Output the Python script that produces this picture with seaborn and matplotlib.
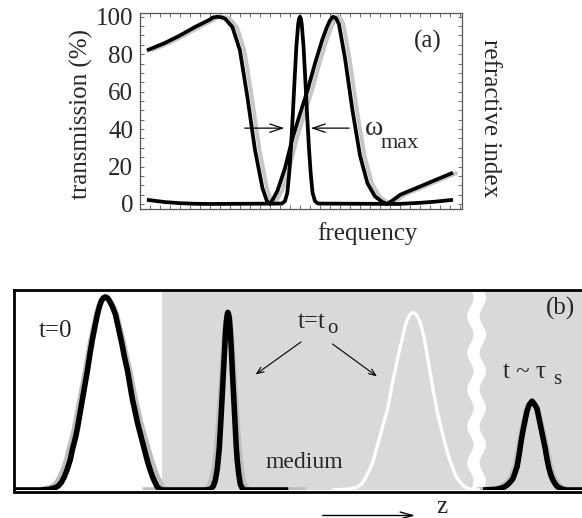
import numpy as np
import seaborn as sns
import matplotlib
matplotlib.use('Agg')
import matplotlib.pyplot as plt
from matplotlib.ticker import MultipleLocator

sns.set_style('white')
plt.rcParams['font.family'] = ['Liberation Serif', 'DejaVu Serif']
plt.rcParams['lines.solid_joinstyle'] = 'round'
plt.rcParams['lines.solid_capstyle'] = 'butt'

# ---- panel (a): transmission vs frequency (arbitrary detuning units) ----
freq_broad = [-5.1, -4.5, -4.0, -3.5, -3.0, -2.9, -2.75, -2.6, -2.5, -2.25, -2.0, -1.75,
              -1.5, -1.25, -1.1, -1.0, -0.9, -0.75, -0.5, -0.25, 0.0, 0.25, 0.5, 0.75,
              0.9, 1.0, 1.1, 1.2, 1.3, 1.5, 1.75, 2.0, 2.25, 2.5, 2.75, 2.9, 3.1, 3.33,
              3.5, 4.0, 4.5, 5.1]
trans_broad = [82, 86, 90, 94.5, 98.5, 99.6, 100, 99.6, 99, 94.5, 82, 57,
               29, 8.5, 1.5, 0, 2.5, 7, 19, 35, 48, 60.5, 75, 88,
               94.5, 98, 100, 99.3, 96, 78, 50, 26, 11, 4, 1, 0, 2, 4.8,
               6, 9.3, 12.7, 16.7]

freq_narrow = [-5.1, -4.5, -4.0, -3.5, -3.0, -0.6, -0.5, -0.42, -0.36, -0.30,
               -0.24, -0.18, -0.12, -0.06, -0.03, 0.0, 0.03, 0.06, 0.12, 0.18, 0.24,
               0.30, 0.36, 0.42, 0.5, 0.6, 3.3, 3.5, 4.0, 4.5, 5.1]
trans_narrow = [2.2, 1.0, 0.4, 0.1, 0, 0.2, 1.5, 6, 16, 30,
                47, 66, 84, 96, 99, 100, 99, 96, 84, 66, 47,
                30, 16, 6, 1.5, 0.2, 0, 0.2, 0.6, 1.2, 2.2]

ytick_vals = [0, 20, 40, 60, 80, 100]

# ---- panel (b): pulse profiles along z ----
z_t0 = [0.1, 2.7, 3.5, 4.2, 4.5, 4.8, 5.1, 5.4, 5.7, 5.9, 6.2, 6.4, 6.7, 6.9, 7.2, 7.4,
        7.7, 7.9, 8.2, 8.4, 8.6, 8.8, 9.0, 9.2, 9.4, 9.6, 9.9, 10.2, 10.5, 10.8, 11.1,
        11.4, 11.7, 11.9, 12.2, 12.4, 12.7, 12.9, 13.2, 13.4, 13.7, 13.9, 14.2, 14.4,
        14.7, 14.9]
amp_t0 = [0, 0, 0.003, 0.012, 0.022, 0.04, 0.07, 0.11, 0.16, 0.21, 0.27, 0.32, 0.41, 0.47,
          0.56, 0.62, 0.72, 0.78, 0.86, 0.91, 0.95, 0.98, 0.995, 1.0, 0.995, 0.98, 0.95,
          0.91, 0.84, 0.77, 0.69, 0.62, 0.53, 0.47, 0.40, 0.35, 0.29, 0.25, 0.19, 0.15,
          0.10, 0.07, 0.035, 0.015, 0.004, 0]

z_slow = [14.9, 19.2, 19.7, 20.0, 20.2, 20.4, 20.6, 20.8, 21.0, 21.1, 21.2, 21.3, 21.4,
          21.45, 21.5, 21.6, 21.7, 21.8, 21.9, 22.0, 22.1, 22.2, 22.3, 22.4, 22.55, 22.7,
          22.9, 23.2, 27.5]
amp_slow = [0, 0, 0.003, 0.02, 0.05, 0.11, 0.22, 0.4, 0.6, 0.7, 0.8, 0.87, 0.91,
            0.92, 0.915, 0.89, 0.82, 0.73, 0.62, 0.52, 0.42, 0.32, 0.22, 0.15, 0.08, 0.03,
            0.008, 0, 0]

z_free = [31.9, 33.7, 34.4, 34.8, 35.2, 35.6, 36.0, 36.3, 36.7, 37.0, 37.4, 37.7, 37.9,
          38.2, 38.4, 38.7, 38.9, 39.2, 39.4, 39.7, 40.0, 40.3, 40.7, 41.1, 41.5, 41.8,
          42.0, 42.4, 42.7, 42.9, 43.2, 43.4, 43.7, 44.0, 44.3, 44.7, 45.1, 45.4, 46.0, 46.7]
amp_free = [0, 0.005, 0.015, 0.03, 0.06, 0.1, 0.15, 0.21, 0.28, 0.34, 0.41, 0.49, 0.55,
            0.62, 0.67, 0.74, 0.78, 0.85, 0.88, 0.91, 0.92, 0.91, 0.87, 0.79, 0.67, 0.58,
            0.52, 0.41, 0.34, 0.3, 0.24, 0.2, 0.15, 0.11, 0.07, 0.04, 0.018, 0.01, 0, 0]

z_ts = [47.0, 48.2, 48.7, 49.1, 49.4, 49.7, 50.0, 50.2, 50.4, 50.6, 50.8, 51.0, 51.2,
        51.4, 51.6, 51.9, 52.2, 52.4, 52.6, 52.8, 53.0, 53.2, 53.4, 53.6, 53.8, 54.0,
        54.3, 54.5, 54.9, 55.3, 56.9]
amp_ts = [0, 0.003, 0.008, 0.015, 0.025, 0.04, 0.06, 0.09, 0.12, 0.18, 0.25, 0.31, 0.36,
          0.41, 0.44, 0.46, 0.44, 0.42, 0.37, 0.32, 0.27, 0.22, 0.16, 0.11, 0.075, 0.05,
          0.025, 0.015, 0.005, 0, 0]

medium_start = 14.9

fig = plt.figure(figsize=(5.82, 5.18), dpi=100)
ax_a = fig.add_axes([140 / 582, 1 - 209 / 518, 322 / 582, 196 / 518])
ax_b = fig.add_axes([13.5 / 582, 1 - 490 / 518, 1 - 13.5 / 582, 200 / 518])

# panel (a)
shadow = '#c6c6c6'
sns.lineplot(x=np.array(freq_broad) + 0.15, y=trans_broad, ax=ax_a, color=shadow,
             lw=2.8, estimator=None, sort=False)
sns.lineplot(x=freq_broad, y=trans_broad, ax=ax_a, color='black', lw=2.7,
             estimator=None, sort=False)
sns.lineplot(x=freq_narrow, y=trans_narrow, ax=ax_a, color='black', lw=2.7,
             estimator=None, sort=False)

ax_a.set_xlim(-5.33, 5.4)
ax_a.set_ylim(-2.7, 102)
ax_a.set_yticks(ytick_vals)
ax_a.yaxis.set_minor_locator(MultipleLocator(5))
ax_a.xaxis.set_major_locator(MultipleLocator(1 / 3))
ax_a.tick_params(which='both', direction='in', top=True, right=True, bottom=True, left=True,
                 length=3, width=0.6, color='#555555', labelbottom=False)
ax_a.tick_params(axis='y', labelsize=18, pad=5)
for s in ax_a.spines.values():
    s.set_color('#555555')
    s.set_linewidth(0.9)
ax_a.set_xlabel('')
ax_a.set_ylabel('')

arrow_kw = dict(arrowstyle='->,head_length=0.9,head_width=0.3', lw=0.9, color='black')
ax_a.annotate('', xy=(-0.43, 40.5), xytext=(-1.93, 40.5), arrowprops=arrow_kw)
ax_a.annotate('', xy=(0.27, 40.5), xytext=(1.73, 40.5), arrowprops=arrow_kw)
ax_a.text(2.17, 36.8, '\u03c9', fontsize=20, ha='left', va='baseline')
ax_a.text(2.67, 30.0, 'max', fontsize=16, ha='left', va='baseline')
ax_a.text(4.27, 83.7, '(a)', fontsize=18, ha='center', va='baseline')

fig.text(81 / 582, 1 - 114 / 518, 'transmission (%)', fontsize=18, rotation=90,
         ha='center', va='center')
fig.text(490 / 582, 1 - 118 / 518, 'refractive index', fontsize=18, rotation=270,
         ha='center', va='center')
fig.text(367 / 582, 1 - 234 / 518, 'frequency', fontsize=18, ha='center', va='center')

# panel (b)
ax_b.axvspan(medium_start, 60, color='#d9d9d9', lw=0, zorder=0)

# wavy white break mark in the medium
yy = np.linspace(-0.05, 1.1, 300)
xc = 46.3 + 0.32 * np.sin(2 * np.pi * yy * 200 / 38)
ax_b.fill_betweenx(yy, xc - 0.62, xc + 0.62, color='white', lw=0, zorder=1)


def pulse(z, amp, scale, black=True):
    z = np.asarray(z)
    zc = z[int(np.argmax(amp))]
    if black:
        sns.lineplot(x=zc + (z - zc) * scale, y=amp, ax=ax_b, color='#bdbdbd', lw=4.0,
                     estimator=None, sort=False, zorder=2)
        sns.lineplot(x=z, y=amp, ax=ax_b, color='black', lw=4.0,
                     estimator=None, sort=False, zorder=3)
    else:
        sns.lineplot(x=z, y=amp, ax=ax_b, color='white', lw=2.4,
                     estimator=None, sort=False, zorder=3)


pulse(z_t0, amp_t0, 1.1)
pulse(z_slow, amp_slow, 1.3)
pulse(z_free, amp_free, 1.0, black=False)
pulse(z_ts, amp_ts, 1.12)

ax_b.set_xlim(0, 56.9)
ax_b.set_ylim(0, 1.036)
ax_b.set_xticks([])
ax_b.set_yticks([])
ax_b.set_xlabel('')
ax_b.set_ylabel('')
for name in ['left', 'top', 'bottom']:
    ax_b.spines[name].set_color('black')
    ax_b.spines[name].set_linewidth(2)
ax_b.spines['right'].set_visible(False)
ax_b.spines['bottom'].set_position(('outward', 1.5))

ax_b.text(2.5, 0.79, 't=0', fontsize=18, ha='left', va='baseline')
ax_b.text(28.4, 0.84, 't=t', fontsize=18, ha='left', va='baseline')
ax_b.text(31.4, 0.815, 'o', fontsize=15, ha='left', va='baseline')
small_arrow = dict(arrowstyle='->,head_length=0.5,head_width=0.2', lw=0.8, color='black')
ax_b.annotate('', xy=(24.0, 0.59), xytext=(29.0, 0.775), arrowprops=small_arrow)
ax_b.annotate('', xy=(36.6, 0.58), xytext=(31.7, 0.765), arrowprops=small_arrow)
ax_b.text(25.2, 0.115, 'medium', fontsize=17, ha='left', va='baseline')
ax_b.text(49.0, 0.58, 't ~ \u03c4', fontsize=18, ha='left', va='baseline')
ax_b.text(54.0, 0.55, 's', fontsize=15, ha='left', va='baseline')
ax_b.text(54.7, 0.91, '(b)', fontsize=18, ha='center', va='baseline')

fig.text(442 / 582, 1 - 513 / 518, 'z', fontsize=18, ha='center', va='baseline')
ax_b.annotate('', xy=(418 / 582, 2.5 / 518), xytext=(320 / 582, 2.5 / 518),
              xycoords='figure fraction', textcoords='figure fraction',
              arrowprops=dict(arrowstyle='->,head_length=0.9,head_width=0.25', lw=1.0,
                              color='black'),
              annotation_clip=False)

fig.savefig('out.png', dpi=100)
